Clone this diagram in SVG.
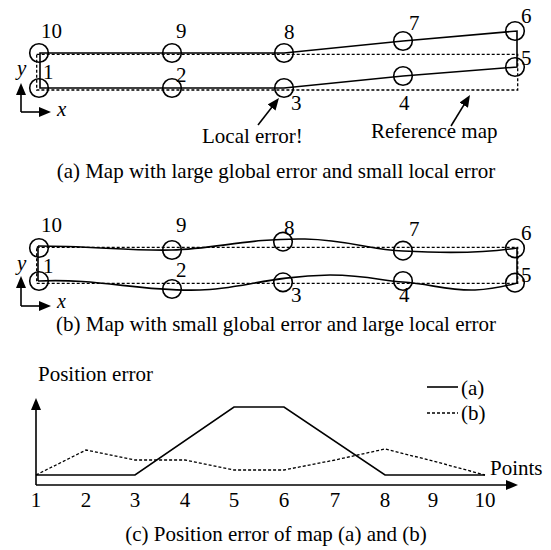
<svg xmlns="http://www.w3.org/2000/svg" width="551" height="550" viewBox="0 0 551 550">
<style>
text{font-family:'Liberation Serif','Times New Roman',Tinos,'Nimbus Roman','DejaVu Serif',serif;font-size:21px;fill:#000}
.i{font-style:italic}
.m{text-anchor:middle}
.c{fill:none;stroke:#000;stroke-width:1.6}
.s{fill:none;stroke:#000;stroke-width:1.6;stroke-linejoin:miter}
.d{fill:none;stroke:#000;stroke-width:1.3;stroke-dasharray:3 2}
.a{fill:none;stroke:#000;stroke-width:1.6;marker-end:url(#ah)}
</style>
<defs>
<marker id="ah" markerUnits="userSpaceOnUse" markerWidth="12" markerHeight="10" refX="8" refY="5" orient="auto">
<path d="M0,0 L12,5 L0,10 z" fill="#000"/>
</marker>
</defs>
<rect width="551" height="550" fill="#fff"/>

<g id="connectors">
<rect class="d" x="36.7" y="54.3" width="481" height="35.7"/>
<polygon class="s" points="40,53 172,53 284,53 403,41 517,31 517,67 403,76 284,88 172,88 40,88"/>
<line class="a" x1="21" y1="112" x2="21" y2="87"/>
<line class="a" x1="21" y1="112" x2="47" y2="112"/>
<line class="a" x1="258" y1="125" x2="276.5" y2="101.2"/>
<line class="a" x1="451" y1="126" x2="467.9" y2="98.4"/>
<rect class="d" x="36.7" y="247.3" width="481" height="36"/>
<line class="s" x1="38" y1="246" x2="38" y2="281"/>
<line class="s" x1="517" y1="248" x2="517" y2="283"/>
<path class="s" d="M38,246 C90,246 130,251 172,250 C215,249 250,238 305,239 C350,240 370,250 403,251 C440,253 480,254 517,248"/>
<path class="s" d="M38,281 C100,278 140,292 200,290 C240,289 270,276 330,275 C370,275 385,282 403,282 C430,284 450,291 475,290 C495,289 505,286 517,283"/>
<line class="a" x1="21" y1="306" x2="21" y2="280"/>
<line class="a" x1="21" y1="306" x2="47" y2="306"/>
<line class="a" x1="36" y1="485" x2="36" y2="402"/>
<line class="a" x1="36" y1="485" x2="514" y2="485"/>
<polyline class="s" points="36,475 135,475 234,407 284,407 385,475 485,475"/>
<polyline class="d" points="36,475 86,450 135,460 185,460 234,470 284,470 335,460 385,449 433,461 485,475"/>
<line class="s" x1="427" y1="387" x2="458" y2="387"/>
<line class="d" x1="427" y1="413" x2="458" y2="413"/>
</g>

<g id="nodes-a">
<g id="a10"><circle class="c" cx="39" cy="53" r="9.3"/><text x="41" y="38">10</text></g>
<g id="a9"><circle class="c" cx="172" cy="53" r="9.3"/><text x="176" y="38">9</text></g>
<g id="a8"><circle class="c" cx="284" cy="53" r="9.3"/><text x="284" y="39">8</text></g>
<g id="a7"><circle class="c" cx="403" cy="41" r="9.3"/><text x="409" y="30">7</text></g>
<g id="a6"><circle class="c" cx="515" cy="31" r="9.3"/><text x="521" y="23">6</text></g>
<g id="a5"><circle class="c" cx="515" cy="67" r="9.3"/><text x="521" y="65">5</text></g>
<g id="a4"><circle class="c" cx="403" cy="76" r="9.3"/><text x="399" y="110">4</text></g>
<g id="a3"><circle class="c" cx="284" cy="88" r="9.3"/><text x="291" y="110">3</text></g>
<g id="a2"><circle class="c" cx="172" cy="88" r="9.3"/><text x="176" y="82">2</text></g>
<g id="a1"><circle class="c" cx="39" cy="88" r="9.3"/><text x="43" y="79">1</text></g>
</g>
<g id="labels-a">
<text class="i" x="17" y="75">y</text>
<text class="i" x="57" y="116">x</text>
<text x="202" y="143">Local error!</text>
<text x="371" y="138">Reference map</text>
<text class="m" x="276" y="178">(a) Map with large global error and small local error</text>
</g>

<g id="nodes-b">
<g id="b10"><circle class="c" cx="39" cy="248" r="9.3"/><text x="41" y="232">10</text></g>
<g id="b9"><circle class="c" cx="172" cy="250" r="9.3"/><text x="176" y="232">9</text></g>
<g id="b8"><circle class="c" cx="283" cy="241.7" r="9.3"/><text x="284" y="235">8</text></g>
<g id="b7"><circle class="c" cx="403" cy="250.7" r="9.3"/><text x="409" y="236">7</text></g>
<g id="b6"><circle class="c" cx="515" cy="248.3" r="9.3"/><text x="521" y="240">6</text></g>
<g id="b5"><circle class="c" cx="515" cy="282.7" r="9.3"/><text x="521" y="282">5</text></g>
<g id="b4"><circle class="c" cx="403" cy="281" r="9.3"/><text x="399" y="302">4</text></g>
<g id="b3"><circle class="c" cx="283" cy="282.3" r="9.3"/><text x="291" y="302">3</text></g>
<g id="b2"><circle class="c" cx="172" cy="289" r="9.3"/><text x="176" y="277">2</text></g>
<g id="b1"><circle class="c" cx="39" cy="281" r="9.3"/><text x="43" y="273">1</text></g>
</g>
<g id="labels-b">
<text class="i" x="17" y="270">y</text>
<text class="i" x="57" y="307.5" style="font-size:20px">x</text>
<text class="m" x="276" y="331">(b) Map with small global error and large local error</text>
</g>

<g id="chart-c">
<text x="38" y="381">Position error</text>
<text x="461" y="395">(a)</text>
<text x="461" y="420">(b)</text>
<text x="490" y="475">Points</text>
<text class="m" x="36" y="507">1</text>
<text class="m" x="86" y="507">2</text>
<text class="m" x="135" y="507">3</text>
<text class="m" x="185" y="507">4</text>
<text class="m" x="234" y="507">5</text>
<text class="m" x="284" y="507">6</text>
<text class="m" x="335" y="507">7</text>
<text class="m" x="385" y="507">8</text>
<text class="m" x="433" y="507">9</text>
<text class="m" x="485" y="507">10</text>
<text class="m" x="276" y="541">(c) Position error of map (a) and (b)</text>
</g>
</svg>
